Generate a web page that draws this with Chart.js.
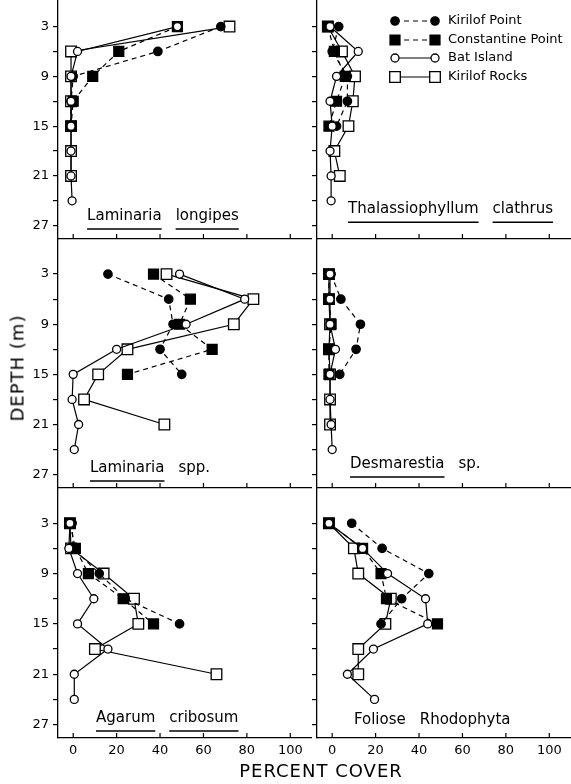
<!DOCTYPE html>
<html>
<head>
<meta charset="utf-8">
<script src="https://cdn.jsdelivr.net/npm/chart.js@4.4.1/dist/chart.umd.min.js"></script>
<style>
  html, body { margin: 0; padding: 0; background: #fff; }
  body { width: 571px; height: 784px; position: relative; overflow: hidden; font-family: "DejaVu Sans", sans-serif; }
  canvas { position: absolute; }
  .axis-title { position: absolute; color: #000; font-size: 18px; letter-spacing: 1px; white-space: nowrap; }
  #depth-title { left: 17px; top: 368px; transform: translate(-50%, -50%) rotate(-90deg); }
  #cover-title { left: 321px; top: 770px; transform: translate(-50%, -50%); }
</style>
</head>
<body>
<canvas id="p1" width="312" height="241" style="left:0;top:0"></canvas>
<canvas id="p2" width="262" height="241" style="left:309px;top:0"></canvas>
<canvas id="p3" width="312" height="251" style="left:0;top:239px"></canvas>
<canvas id="p4" width="262" height="251" style="left:309px;top:239px"></canvas>
<canvas id="p5" width="312" height="274" style="left:0;top:488px"></canvas>
<canvas id="p6" width="262" height="274" style="left:309px;top:488px"></canvas>
<div class="axis-title" id="depth-title">DEPTH (m)</div>
<div class="axis-title" id="cover-title">PERCENT COVER</div>
<script>
// depths sampled (m) and axis ticks
const depths = [3, 6, 9, 12, 15, 18, 21, 24];
const depthTicks = [3, 6, 9, 12, 15, 18, 21, 24, 27];
const depthLabels = [3, 9, 15, 21, 27];
const coverTicks = [0, 20, 40, 60, 80, 100];
const siteNames = ['Kirilof Point', 'Constantine Point', 'Bat Island', 'Kirilof Rocks'];

// Laminaria longipes
const longipesKirilofPt = [68, 39, 0, -1, -1];
const longipesConstantine = [48, 21, 9, 0, -1];
const longipesBat = [48, 2, -1, -1, -1, -1, -1, -0.5];
const longipesKirilofRocks = [72, -1, -1, -1, -1, -1, -1];

// Thalassiophyllum clathrus
const thalKirilofPt = [3, 0, 7, 7, 2];
const thalConstantine = [-2, 1, 6, 2, -1.5];
const thalBat = [-1, 12, 2, -1, 0, -1, -0.5, -0.5];
const thalKirilofRocks = [-2, 4.5, 10.5, 9.5, 7.5, 1, 3.5];

// Laminaria spp.
const lamKirilofPt = [16, 44, 46, 40, 50];
const lamConstantine = [37, 54, 49, 64, 25];
const lamBat = [49, 79, 52, 20, 0, -0.5, 2.5, 0.5];
const lamKirilofRocks = [43, 83, 74, 25, 11.5, 5, 42];

// Desmarestia sp.
const desmKirilofPt = [-0.5, 4, 13, 11, 3.5];
const desmConstantine = [-1.5, -1.5, -0.5, -1.5, -1.5];
const desmBat = [-1, -1, -1, 1.5, -1, -1, -0.5, 0];
const desmKirilofRocks = [-1.5, -1.5, -1, -1.5, -1, -1, -1];

// Agarum cribosum
const agarumKirilofPt = [-0.5, 0, 12, 24, 49];
const agarumConstantine = [-1.5, 1, 7, 23, 37];
const agarumBat = [-1.5, -2, 2, 9.5, 2, 16, 0.5, 0.5];
const agarumKirilofRocks = [-1.5, -1, 14, 28, 30, 10, 66];

// Foliose Rhodophyta
const rhodoKirilofPt = [9, 23, 44.5, 32, 22.5];
const rhodoConstantine = [-1.5, 14, 22.5, 25, 48.5];
const rhodoBat = [-1.5, 14, 25.5, 43, 44, 19, 7, 19.5];
const rhodoKirilofRocks = [-1.5, 10, 12, 27, 24.5, 12, 12];

// marker / line look for each site (same order as siteNames)
const siteStyle = [
    { pointStyle: 'circle', radius: 4.2, fill: '#000', dash: [5, 4], order: 1 },
    { pointStyle: 'rect', radius: 7, fill: '#000', dash: [5, 4], order: 2 },
    { pointStyle: 'circle', radius: 4, fill: '#fff', dash: [], order: 0 },
    { pointStyle: 'rect', radius: 7.5, fill: '#fff', dash: [], order: 3 }
];

const FONT = '"DejaVu Sans", sans-serif';

// inward x ticks, species name, legend
const panelDecor = {
    id: 'panelDecor',
    afterDraw(chart, args, opts) {
        const ctx = chart.ctx;
        const xs = chart.scales.x, ys = chart.scales.y;
        ctx.save();
        ctx.strokeStyle = '#000';
        ctx.fillStyle = '#000';
        ctx.lineWidth = 1.2;
        coverTicks.forEach(v => {
            const px = xs.getPixelForValue(v);
            ctx.beginPath();
            ctx.moveTo(px, xs.top);
            ctx.lineTo(px, xs.top - 5);
            ctx.stroke();
        });

        // species name, underlined words
        if (opts.words) {
            let x = xs.getPixelForValue(opts.at[0]);
            const y = ys.getPixelForValue(opts.at[1]);
            ctx.font = '15px ' + FONT;
            ctx.textBaseline = 'alphabetic';
            ctx.textAlign = 'left';
            opts.words.forEach(([word, underline]) => {
                const w = ctx.measureText(word).width;
                ctx.fillText(word, x, y);
                if (underline) {
                    ctx.lineWidth = 1.5;
                    ctx.beginPath();
                    ctx.moveTo(x, y + 9);
                    ctx.lineTo(x + w, y + 9);
                    ctx.stroke();
                }
                x += w + 14;
            });
        }

        // legend
        if (opts.legend) {
            const left = chart.chartArea.left, top = chart.chartArea.top;
            const rows = [21, 40, 58, 77];
            ctx.font = '13px ' + FONT;
            ctx.textBaseline = 'middle';
            siteNames.forEach((name, i) => {
                const st = siteStyle[i];
                const y = top + rows[i];
                const x1 = left + 78, x2 = left + 118;
                ctx.lineWidth = 1.2;
                ctx.setLineDash(st.dash);
                ctx.beginPath();
                ctx.moveTo(x1, y);
                ctx.lineTo(x2, y);
                ctx.stroke();
                ctx.setLineDash([]);
                ctx.fillStyle = st.fill;
                ctx.strokeStyle = '#000';
                ctx.lineWidth = 1.3;
                [x1, x2].forEach(px => Chart.helpers.drawPoint(ctx, {
                    pointStyle: st.pointStyle, radius: st.radius, rotation: 0, borderWidth: 1.3
                }, px, y));
                ctx.fillStyle = '#000';
                ctx.fillText(name, left + 131, y);
            });
        }
        ctx.restore();
    }
};

function makePanel(canvasId, series, opts) {
    const datasets = series.map((values, i) => {
        const st = siteStyle[i];
        return {
            label: siteNames[i],
            data: values.map((v, k) => ({ x: v, y: depths[k] })),
            showLine: true,
            borderColor: '#000',
            borderWidth: 1.2,
            borderDash: st.dash,
            pointStyle: st.pointStyle,
            pointRadius: st.radius,
            pointBackgroundColor: st.fill,
            pointBorderColor: '#000',
            pointBorderWidth: 1.3,
            order: st.order,
            clip: false
        };
    });

    new Chart(document.getElementById(canvasId), {
        type: 'scatter',
        data: { datasets },
        options: {
            responsive: false,
            animation: false,
            events: [],
            devicePixelRatio: 1,
            layout: { padding: 0, autoPadding: false },
            plugins: {
                legend: { display: false },
                tooltip: { enabled: false },
                panelDecor: { words: opts.words, at: opts.at, legend: opts.legend }
            },
            scales: {
                x: {
                    type: 'linear',
                    min: -7,
                    max: 110,
                    grid: { display: false, drawTicks: false },
                    border: { display: true, color: '#000', width: 1.3 },
                    ticks: {
                        display: opts.bottom,
                        color: '#000',
                        padding: 5,
                        font: { family: FONT, size: 13 }
                    },
                    afterBuildTicks(s) { s.ticks = coverTicks.map(v => ({ value: v })); },
                    afterFit(s) {
                        s.height = opts.bottom ? 24 : 2;
                        s.paddingLeft = 0;
                        s.paddingRight = 0;
                    }
                },
                y: {
                    type: 'linear',
                    reverse: true,
                    min: opts.yMin,
                    max: 28.6,
                    grid: { drawOnChartArea: false, drawTicks: true, tickLength: 5, color: '#000', lineWidth: 1.2 },
                    border: { display: true, color: '#000', width: 1.3 },
                    ticks: {
                        display: opts.left,
                        color: '#000',
                        padding: 4,
                        font: { family: FONT, size: 13 },
                        callback: v => depthLabels.includes(v) ? String(v) : ''
                    },
                    afterBuildTicks(s) { s.ticks = depthTicks.map(v => ({ value: v })); },
                    afterFit(s) {
                        s.width = opts.left ? 58 : 8;
                        s.paddingTop = 0;
                        s.paddingBottom = 0;
                    }
                }
            }
        },
        plugins: [panelDecor]
    });
}

makePanel('p1', [longipesKirilofPt, longipesConstantine, longipesBat, longipesKirilofRocks],
    { left: true, bottom: false, yMin: -0.2, words: [['Laminaria', true], ['longipes', true]], at: [6.4, 26.3] });
makePanel('p2', [thalKirilofPt, thalConstantine, thalBat, thalKirilofRocks],
    { left: false, bottom: false, yMin: -0.2, legend: true, words: [['Thalassiophyllum', true], ['clathrus', true]], at: [7.3, 25.5] });
makePanel('p3', [lamKirilofPt, lamConstantine, lamBat, lamKirilofRocks],
    { left: true, bottom: false, yMin: -1.2, words: [['Laminaria', true], ['spp.', false]], at: [7.7, 26.7] });
makePanel('p4', [desmKirilofPt, desmConstantine, desmBat, desmKirilofRocks],
    { left: false, bottom: false, yMin: -1.2, words: [['Desmarestia', true], ['sp.', false]], at: [8.2, 26.2] });
makePanel('p5', [agarumKirilofPt, agarumConstantine, agarumBat, agarumKirilofRocks],
    { left: true, bottom: true, yMin: -1.2, words: [['Agarum', true], ['cribosum', true]], at: [10.5, 26.7] });
makePanel('p6', [rhodoKirilofPt, rhodoConstantine, rhodoBat, rhodoKirilofRocks],
    { left: false, bottom: true, yMin: -1.2, words: [['Foliose', false], ['Rhodophyta', false]], at: [10, 26.9] });
</script>
</body>
</html>
